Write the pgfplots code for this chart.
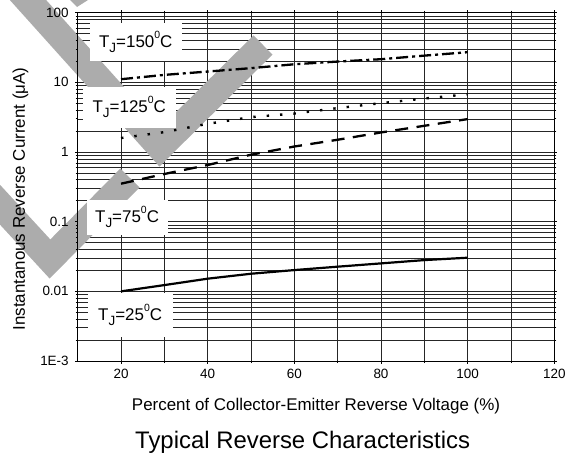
\documentclass[border=0pt]{standalone}
\usepackage{fontspec}
\setmainfont{Liberation Sans}
\usepackage{pgfplots}
\pgfplotsset{compat=1.18}

% data (x in %, y in uA)
\pgfplotstableread{
x   y
20  11.1
30  12.8
40  14.3
50  16.0
60  18.2
70  19.9
80  21.5
90  24.2
100 27.1
}\tjonefifty
\pgfplotstableread{
x   y
20  1.59
30  1.93
40  2.54
50  3.17
60  3.57
70  4.27
80  5.03
90  5.86
100 6.75
}\tjonetwentyfive
\pgfplotstableread{
x   y
20  0.351
30  0.484
40  0.651
50  0.915
60  1.20
70  1.50
80  1.91
90  2.38
100 2.97
}\tjseventyfive
\pgfplotstableread{
x   y
20  0.0100
30  0.0123
40  0.0152
50  0.0179
60  0.0202
70  0.0226
80  0.0252
90  0.0281
100 0.0304
}\tjtwentyfive

\tikzset{boxlbl/.style={fill=white, inner sep=0pt, font=\fontsize{17}{20}\selectfont}}
\newcommand\tj[1]{T\raisebox{-5bp}{\fontsize{13.5}{14}\selectfont J}=#1\raisebox{9bp}{\fontsize{10.5}{11}\selectfont 0}C}

\begin{document}
\begin{tikzpicture}
\useasboundingbox (0,0) rectangle (572bp,-456bp);

% grid only
\begin{axis}[
  width=476.6bp, height=348.3bp, scale only axis,
  at={(77.7bp,-361bp)}, anchor=south west,
  xmin=10, xmax=120, ymode=log, ymin=1e-3, ymax=100,
  xtick={20,40,60,80,100,120},
  minor xtick={30,50,70,90,110},
  ytick={1e-3,1e-2,1e-1,1,10,100},
  minor ytick={0.002,0.003,0.004,0.005,0.006,0.007,0.008,0.009,
    0.02,0.03,0.04,0.05,0.06,0.07,0.08,0.09,
    0.2,0.3,0.4,0.5,0.6,0.7,0.8,0.9,
    2,3,4,5,6,7,8,9,20,30,40,50,60,70,80,90},
  xticklabels={}, yticklabels={},
  grid=both,
  major grid style={black!85, line width=0.6bp},
  minor grid style={black!85, line width=0.55bp},
  tick style={draw=none},
  axis line style={draw=none},
]
\end{axis}

% grey watermark
\begin{scope}
\clip (0,0) rectangle (572bp,-456bp);
\draw[gray!65, line width=27bp, line join=miter]
  (10bp,20bp) -- (160bp,-147bp) -- (263bp,-45bp);
\draw[gray!65, line width=27bp, line join=miter]
  (-20bp,-183bp) -- (50bp,-259bp) -- (130bp,-178bp);
\fill[gray!65] (70bp,0bp) -- (88bp,0bp) -- (77bp,-7bp) -- cycle;
\end{scope}

% frame, tick labels, curves, labels
\begin{axis}[
  width=476.6bp, height=348.3bp, scale only axis,
  at={(77.7bp,-361bp)}, anchor=south west,
  xmin=10, xmax=120, ymode=log, ymin=1e-3, ymax=100,
  xtick={20,40,60,80,100,120},
  minor xtick={30,50,70,90,110},
  ytick={1e-3,1e-2,1e-1,1,10,100},
  yticklabels={1E-3,0.01,0.1,1,10,100},
  minor ytick={0.002,0.003,0.004,0.005,0.006,0.007,0.008,0.009,
    0.02,0.03,0.04,0.05,0.06,0.07,0.08,0.09,
    0.2,0.3,0.4,0.5,0.6,0.7,0.8,0.9,
    2,3,4,5,6,7,8,9,20,30,40,50,60,70,80,90},
  tick align=outside,
  major tick length=2.5bp, minor tick length=2bp,
  tick style={black, line width=0.6bp},
  axis line style={line width=0.9bp},
  tick label style={font=\fontsize{13.5}{15}\selectfont},
  xticklabel style={yshift=-2bp},
  yticklabel style={xshift=-3bp},
  /pgf/number format/assume math mode=true,
  clip=false]
\addplot[black, line width=2.3bp, dash pattern=on 12bp off 4bp on 3bp off 4bp]
  table[x=x,y=y] {\tjonefifty};
\addplot[black, line width=2.4bp, dash pattern=on 2.4bp off 11bp]
  table[x=x,y=y] {\tjonetwentyfive};
\addplot[black, line width=2.3bp, dash pattern=on 13bp off 8.5bp]
  table[x=x,y=y] {\tjseventyfive};
\addplot[black, line width=2.2bp]
  table[x=x,y=y] {\tjtwentyfive};

\node[boxlbl, minimum width=92bp, minimum height=38bp]
  at (axis cs:23.4,38) {\tj{150}};
\node[boxlbl, minimum width=93bp, minimum height=41bp]
  at (axis cs:21.9,4.38) {\tj{125}};
\node[boxlbl, minimum width=81bp, minimum height=35bp]
  at (axis cs:21.4,0.1164) {\tj{75}};
\node[boxlbl, minimum width=85bp, minimum height=44bp]
  at (axis cs:22.1,0.00452) {\tj{25}};

\node[anchor=base, font=\fontsize{17}{20}\selectfont]
  at (axis description cs:0.5,-0.1407)
  {Percent of Collector-Emitter Reverse Voltage (\%)};
\node[anchor=base, rotate=90, font=\fontsize{17}{20}\selectfont]
  at (axis description cs:-0.1106,0.465)
  {Instantanous Reverse Current (μA)};
\node[anchor=base, font=\fontsize{24}{28}\selectfont]
  at (axis description cs:0.472,-0.250)
  {Typical Reverse Characteristics};
\end{axis}
\end{tikzpicture}
\end{document}
